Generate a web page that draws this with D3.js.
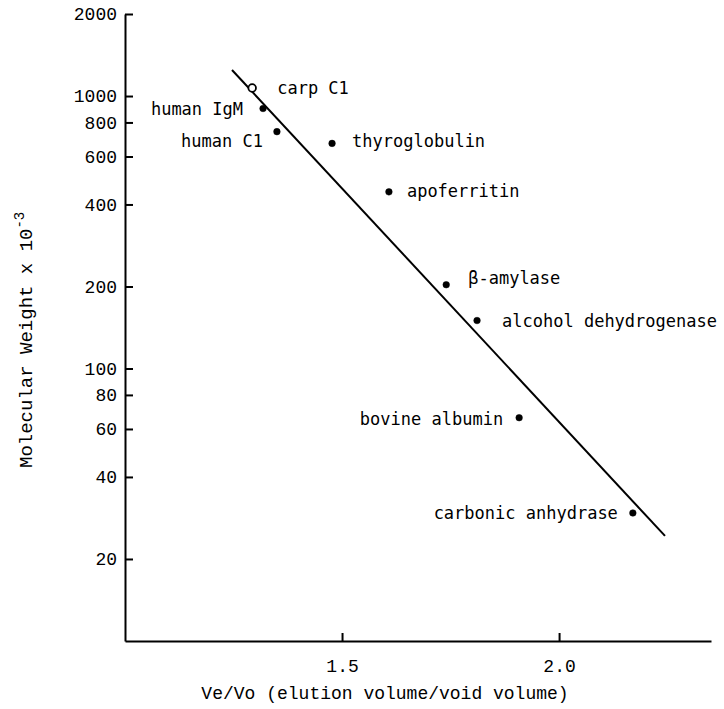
<!DOCTYPE html>
<html>
<head>
<meta charset="utf-8">
<script src="https://cdn.jsdelivr.net/npm/d3@7"></script>
<style>
  html, body { margin: 0; padding: 0; background: #fff; }
  svg { display: block; }
</style>
</head>
<body>
<svg id="chart" width="724" height="709"></svg>
<script>
// Gel filtration calibration: protein standards, elution volume ratio vs molecular weight
const proteins = ["carp C1", "human IgM", "human C1", "thyroglobulin", "apoferritin",
                  "\u03b2-amylase", "alcohol dehydrogenase", "bovine albumin", "carbonic anhydrase"];
const veVo     = [1.293, 1.318, 1.350, 1.477, 1.608, 1.740, 1.811, 1.908, 2.170];
const mwK      = [1070, 900, 740, 670, 445, 203, 150, 66, 29.5];
const openMark = [true, false, false, false, false, false, false, false, false];

// Calibration line end points (Ve/Vo, MW x 10^-3)
const fitX = [1.2465, 2.244];
const fitY = [1246, 24.3];

const yTicks = [20, 40, 60, 80, 100, 200, 400, 600, 800, 1000, 2000];
const xTicks = [1.5, 2.0];

// Label placement around each point: [anchor, dx, dy]
const labelPlacement = [
  ["start", 25, 0], ["end", -20, 1], ["end", -14, 9], ["start", 20, -2],
  ["start", 18, -1], ["start", 22, -7], ["start", 25, 0], ["end", -16, 1], ["end", -15, 0]
];

const svg = d3.select("#chart");
const axisFont = "'Liberation Mono', 'Courier New', monospace";
const labelFont = "'DejaVu Sans Mono', monospace";

const x = d3.scaleLinear().domain([1.0, 2.35]).range([125, 711]);
const y = d3.scaleLog().domain([10, 2000]).range([641, 14]);

// Y axis, ticks pointing into the plot
const yAxis = svg.append("g")
  .attr("transform", `translate(${x(1.0)},0)`)
  .call(d3.axisLeft(y).tickValues(yTicks).tickFormat(d3.format("d"))
    .tickSizeInner(-8).tickSizeOuter(0).tickPadding(8));
yAxis.select(".domain").attr("stroke", "#000").attr("stroke-width", 2);
yAxis.selectAll(".tick line").attr("stroke", "#000").attr("stroke-width", 2);
yAxis.selectAll(".tick text")
  .attr("font-family", axisFont).attr("font-size", 18).attr("fill", "#000");

// X axis, ticks pointing up
const xAxis = svg.append("g")
  .attr("transform", `translate(0,${y(10)})`)
  .call(d3.axisBottom(x).tickValues(xTicks).tickFormat(d3.format(".1f"))
    .tickSizeInner(-8).tickSizeOuter(0).tickPadding(18));
xAxis.select(".domain").attr("stroke", "#000").attr("stroke-width", 2);
xAxis.selectAll(".tick line").attr("stroke", "#000").attr("stroke-width", 2);
xAxis.selectAll(".tick text")
  .attr("font-family", axisFont).attr("font-size", 18).attr("fill", "#000");

// Axis titles
svg.append("text")
  .attr("x", 385).attr("y", 699)
  .attr("text-anchor", "middle")
  .attr("font-family", axisFont).attr("font-size", 18).attr("fill", "#000")
  .text("Ve/Vo (elution volume/void volume)");

const yTitle = svg.append("text")
  .attr("transform", "translate(32,468) rotate(-90)")
  .attr("text-anchor", "start")
  .attr("font-family", axisFont).attr("font-size", 19).attr("fill", "#000");
yTitle.append("tspan").text("Molecular Weight x 10");
yTitle.append("tspan").attr("dy", -8).attr("font-size", 14).text("-3");

// Calibration line
const line = d3.line().x(d => x(d[0])).y(d => y(d[1]));
svg.append("path")
  .datum(d3.zip(fitX, fitY))
  .attr("d", line)
  .attr("fill", "none").attr("stroke", "#000").attr("stroke-width", 2);

// Points
const pts = proteins.map((name, i) => ({ name, v: veVo[i], mw: mwK[i], open: openMark[i], lp: labelPlacement[i] }));

svg.append("g").selectAll("circle")
  .data(pts).join("circle")
  .attr("cx", d => x(d.v)).attr("cy", d => y(d.mw))
  .attr("r", d => d.open ? 3.8 : 3.3)
  .attr("fill", d => d.open ? "#fff" : "#000")
  .attr("stroke", "#000").attr("stroke-width", d => d.open ? 1.8 : 0.5);

svg.append("g").selectAll("text")
  .data(pts).join("text")
  .attr("x", d => x(d.v) + d.lp[1])
  .attr("y", d => y(d.mw) + d.lp[2])
  .attr("text-anchor", d => d.lp[0])
  .attr("dominant-baseline", "central")
  .attr("font-family", labelFont).attr("font-size", 17).attr("fill", "#000")
  .text(d => d.name);
</script>
</body>
</html>
